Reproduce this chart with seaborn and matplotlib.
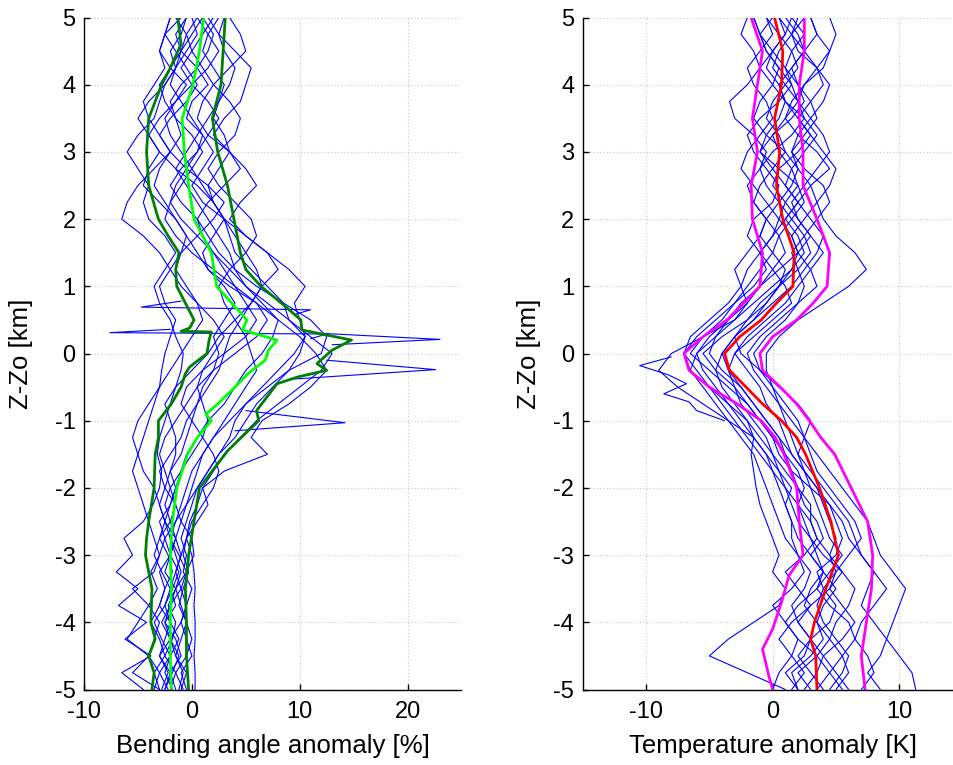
import numpy as np
import pandas as pd
import matplotlib
matplotlib.use("Agg")
import matplotlib.pyplot as plt
import seaborn as sns

# ---------------- data ----------------
Z = [-5.0, -4.75, -4.5, -4.25, -4.0, -3.75, -3.5, -3.25, -3.0, -2.75, -2.5,
     -2.25, -2.0, -1.75, -1.5, -1.25, -1.0, -0.75, -0.5, -0.25, 0.0,
     0.25, 0.5, 0.75, 1.0, 1.25, 1.5, 1.75, 2.0, 2.25, 2.5,
     2.75, 3.0, 3.25, 3.5, 3.75, 4.0, 4.25, 4.5, 4.75, 5.0]

# individual bending-angle anomaly profiles [%]
BA_PROFILES = {
    "L1": [-4.5, -6.5, -3.8, -6.2, -4.2, -6.8, -5.0, -7.0, -5.5, -6.3, -4.5, -3.6, -3.0, -2.8, -3.2, -3.0, -2.5, -2.0, -1.5, -1.0, -0.8, -1.5, -2.0, -3.0, -3.5, -2.5, -1.5, -2.5, -4.0, -4.5, -4.0, -5.0, -6.0, -5.0, -3.5, -3.0, -2.5, -1.5, -1.0, -0.5, -1.5],
    "L2": [0.3, 0.3, 0.2, 0.3, 0.3, 0.2, 0.3, 0.2, 0.0, -0.5, -0.2, 0.5, 1.0, 2.0, 3.0, 4.5, 6.0, 8.0, 10.0, 12.0, 13.0, 11.0, 9.0, 8.5, 7.0, 5.5, 4.0, 3.5, 3.0, 2.0, 1.5, 2.5, 3.5, 3.0, 2.0, 2.5, 3.5, 4.0, 3.0, 2.5, 3.0],
    "L3": [-2.5, -2.0, -3.0, -2.5, -2.0, -3.0, -2.5, -1.8, -2.2, -3.0, -2.5, -2.0, -1.5, -1.0, -0.5, 0.5, 1.5, 3.0, 4.0, 5.0, 6.5, 7.5, 8.0, 6.5, 5.0, 3.5, 2.0, 0.5, -1.0, -2.0, -1.5, -0.5, 0.5, 1.0, 0.0, -1.0, -2.0, -1.5, -0.5, 0.5, 0.0],
    "L4": [-1.0, -0.5, -1.5, -1.0, -0.5, -1.2, -0.8, -0.3, -0.8, -0.5, 0.5, 1.5, 1.0, 3.0, 7.0, 5.5, 6.5, 9.0, 11.0, 12.5, 11.5, 10.0, 8.0, 6.0, 4.0, 3.0, 2.0, 1.0, 0.5, 1.5, 3.0, 4.5, 3.5, 1.5, 0.5, 1.0, 2.0, 1.0, 0.0, -0.5, 0.5],
    "L5": [-3.5, -3.0, -4.0, -3.5, -3.0, -4.0, -3.2, -3.8, -3.0, -3.5, -4.0, -4.5, -5.0, -5.5, -5.0, -4.5, -4.0, -3.5, -3.0, -2.8, -2.5, -2.0, -1.5, -2.5, -3.0, -2.0, -1.0, -0.5, -1.5, -2.5, -3.5, -3.0, -2.0, -3.0, -4.0, -4.5, -3.5, -2.5, -3.0, -2.5, -2.0],
    "L6": [-2.0, -1.5, -2.5, -1.8, -1.5, -2.2, -1.5, -2.5, -2.0, -1.5, -1.0, -0.5, 0.0, 0.5, 1.0, 2.0, 3.5, 5.0, 6.5, 8.0, 9.5, 10.5, 9.0, 7.0, 5.0, 4.0, 3.5, 2.5, 1.5, 0.5, -0.5, -1.5, -0.5, 0.5, 1.5, 2.5, 3.0, 2.0, 1.0, 1.5, 2.5],
    "L7": [-3.0, -5.5, -4.0, -6.0, -5.0, -4.0, -5.5, -3.5, -3.0, -2.5, -3.0, -2.0, -1.5, -2.0, -1.0, -0.5, 0.0, 0.5, 1.5, 2.5, 3.0, 3.5, 4.5, 5.5, 6.5, 6.0, 5.0, 4.0, 3.0, 2.0, 1.0, 0.0, -1.0, -2.0, -2.5, -1.5, 0.0, 1.5, 2.5, 1.5, 0.5],
    "L8": [-1.5, -2.0, -1.0, -1.5, -2.5, -2.0, -1.5, -1.0, -1.5, -2.0, -2.5, -3.0, -3.5, -4.5, -5.0, -5.5, -5.0, -4.0, -3.0, -2.0, -1.0, 0.0, 1.0, 0.5, -1.0, -2.0, -3.0, -4.5, -6.5, -6.0, -5.0, -3.5, -2.0, -1.0, -1.5, -2.5, -3.0, -2.0, -1.0, 0.0, 1.0],
    "L9": [-0.5, -1.0, 0.0, -0.5, -1.0, -0.5, 0.0, -0.8, -0.5, -1.0, -0.5, 0.0, 0.5, 1.5, 2.5, 4.0, 5.0, 6.0, 7.5, 9.0, 10.0, 10.5, 10.0, 9.5, 10.5, 9.0, 7.0, 5.0, 3.5, 4.5, 6.0, 5.0, 3.5, 2.0, 3.0, 4.5, 5.0, 5.5, 4.0, 2.5, 1.5],
    "L10": [-2.8, -2.2, -3.0, -2.0, -2.5, -1.5, -2.0, -2.8, -3.5, -3.0, -2.0, -1.5, -2.5, -3.0, -2.0, -1.0, -0.5, 0.5, 1.0, 2.0, 2.5, 2.0, 3.0, 4.0, 3.0, 1.5, 0.5, -0.5, -1.5, -3.0, -4.5, -4.0, -3.0, -4.0, -5.0, -4.0, -2.5, -1.5, -2.0, -1.0, -0.5],
    "L11": [-1.8, -2.5, -2.0, -1.2, -2.0, -2.5, -1.8, -1.2, -2.0, -2.5, -1.5, -1.0, -0.5, 0.0, 1.0, 2.0, 3.0, 4.0, 5.0, 6.0, 5.5, 5.0, 4.0, 3.0, 2.5, 3.5, 5.0, 6.0, 5.5, 4.0, 2.5, 1.5, 2.5, 4.0, 4.5, 3.5, 2.0, 3.5, 5.0, 4.5, 3.5],
    "L12": [-3.0, -3.5, -2.5, -3.0, -3.8, -3.0, -2.5, -3.0, -2.0, -1.5, -2.0, -2.5, -2.0, -1.0, 0.0, 1.0, 1.5, 1.0, 0.5, 1.0, 2.0, 3.0, 2.0, 0.5, -0.5, -1.5, -1.0, 0.5, 2.0, 3.0, 1.5, -0.5, -2.0, -3.0, -2.0, -0.5, 0.5, -0.5, -1.5, -2.5, -2.0],
    "L13": [-1.2, -0.8, -1.5, -2.0, -1.0, -0.5, -1.0, -1.5, -1.0, -0.5, 0.0, 1.0, 2.0, 2.5, 2.0, 1.0, 0.0, -1.0, -0.5, 1.0, 3.0, 5.0, 6.0, 5.0, 4.0, 2.0, 0.0, -1.5, -2.5, -2.0, -1.0, 0.0, 1.0, 0.0, -1.5, -2.0, -1.0, 0.5, 1.5, 2.0, 1.0],
    "L14": [-2.2, -3.0, -2.0, -2.8, -3.5, -2.5, -2.0, -1.5, -1.0, -1.5, -2.5, -3.0, -2.5, -2.0, -1.5, -1.5, -2.0, -2.5, -1.5, 0.0, 1.5, 2.5, 4.0, 5.5, 6.5, 8.0, 7.0, 5.0, 3.0, 1.0, 0.0, 1.0, 2.0, 1.0, -0.5, 0.0, 1.5, 0.5, -1.0, -1.5, -0.5],
    "L15": [-0.8, -1.5, -0.5, 0.0, -0.5, -1.0, -1.5, -0.5, 0.2, 0.0, -1.0, -1.5, -2.0, -2.5, -3.0, -2.5, -1.5, -0.5, 0.5, 2.0, 4.0, 6.0, 7.0, 6.0, 3.5, 1.5, 1.0, 2.0, 3.0, 2.0, 0.5, -1.5, -3.0, -4.0, -3.0, -1.5, -0.5, -2.0, -3.0, -2.5, -1.0],
    "L16": [-2.5, -1.8, -1.2, -2.0, -2.8, -2.0, -1.0, -0.5, -1.2, -2.0, -1.5, -0.5, 0.5, 1.5, 2.5, 3.5, 4.0, 5.0, 7.0, 9.0, 12.0, 12.5, 11.0, 8.5, 6.0, 4.0, 2.5, 1.5, 0.5, -1.0, -2.0, -1.0, 0.5, 1.5, 2.5, 1.5, 0.0, -1.0, 0.0, 1.0, 2.0],
}

# sharp spikes in bending angle profiles (own heights)
BA_SPIKE_Z = [[0.30, 0.21, 0.13], [-0.10, -0.24, -0.38], [0.36, 0.31, 0.29, 0.22],
              [0.78, 0.69, 0.65, 0.58], [-0.85, -1.03, -1.15]]
BA_SPIKE_X = [[12.0, 23.0, 13.0], [12.5, 22.6, 9.5], [-2.0, -7.6, 12.5, 11.0],
              [-1.0, -4.7, 11.0, 9.5], [5.0, 14.2, 4.0]]

# mean and mean +/- std of bending angle anomaly
BA_MEAN_Z = [5, 4.5, 4, 3.5, 3, 2.5, 2, 1.5, 1, 0.75, 0.5, 0.35, 0.2, 0.05, -0.1, -0.3, -0.5,
             -0.75, -0.9, -1.0, -1.25, -1.5, -2, -2.5, -3, -3.5, -4, -4.5, -5]
BA_MEAN_X = [1.1, 0.7, 0.1, -0.9, -0.7, -0.3, 0.2, 1.8, 2.3, 3.7, 5.1, 4.7, 7.9, 7.1, 6.8, 5.2, 4.0,
             2.4, 1.3, 1.8, 0.5, -0.4, -1.4, -1.8, -2.0, -1.9, -2.0, -2.0, -1.9]
BA_LOW_Z = [5, 4.6, 4.25, 4, 3.5, 3, 2.5, 2, 1.75, 1.5, 1.25, 1, 0.75, 0.5, 0.38, 0.33, 0.32,
            0.2, 0, -0.2, -0.3, -0.5, -0.75, -1, -1.25, -1.5, -2, -2.5, -2.75, -3, -3.25,
            -3.5, -4, -4.25, -4.5, -4.75, -5]
BA_LOW_X = [-1.3, -1.0, -2.0, -2.8, -4.0, -4.2, -4.0, -3.1, -2.2, -1.2, -1.5, -1.4, -0.6, 0.2, -0.2, -1.0, 1.8,
            1.6, 1.4, -0.2, -0.6, -1.0, -1.9, -3.1, -3.1, -3.4, -3.5, -4.0, -4.2, -4.3, -4.0,
            -3.7, -3.8, -3.4, -4.0, -3.5, -3.7]
BA_HIGH_Z = [5, 4.5, 4, 3.5, 3, 2.5, 2, 1.5, 1.25, 1, 0.75, 0.5, 0.35, 0.2, 0.05, -0.15, -0.25,
             -0.35, -0.45, -0.85, -1.0, -1.2, -1.45, -2, -2.5, -3, -3.5, -4, -4.5, -5]
BA_HIGH_X = [3.1, 2.9, 2.7, 1.9, 2.4, 3.3, 3.9, 4.5, 5.0, 6.4, 8.3, 10.1, 10.2, 14.8, 13.0, 11.6, 12.5,
             9.8, 7.9, 6.0, 6.2, 4.9, 3.3, 0.7, 0.2, -0.3, -0.6, -0.5, -0.5, -0.3]

# individual temperature anomaly profiles [K]
T_PROFILES = {
    "R1": [2.0, 1.0, 2.5, 3.0, 2.0, 1.5, 2.5, 3.0, 2.0, 1.5, 1.5, 1.0, 1.5, 0.5, -0.5, -1.5, -3.5, -5.5, -7.5, -9.0, -8.0, -5.5, -3.0, -1.5, 0.0, 1.5, 2.0, 1.5, 0.5, 1.0, 2.0, 1.5, 0.5, 0.0, 1.0, 2.0, 1.5, 0.5, -0.5, -1.0, -1.5],
    "R2": [11.3, 11.0, 10.0, 9.0, 9.5, 10.0, 10.5, 9.5, 8.5, 8.0, 7.5, 6.5, 5.5, 4.5, 3.5, 2.5, 1.5, 0.5, -0.5, -1.5, -2.0, -1.0, 0.5, 2.0, 3.5, 3.0, 2.0, 1.5, 2.5, 3.5, 3.0, 2.0, 1.5, 2.5, 3.5, 3.0, 2.0, 1.5, 2.5, 3.5, 3.0],
    "R3": [1.0, -2.0, -5.0, -3.5, -1.5, 0.5, 1.0, 0.0, 0.5, 0.0, -0.5, -1.0, -1.3, -1.5, -1.7, -1.5, -2.0, -3.5, -5.0, -6.5, -6.0, -4.5, -3.0, -2.0, -2.5, -3.0, -2.0, -1.0, -0.5, -1.5, -2.0, -1.0, -0.5, -1.5, -3.0, -3.4, -2.0, -1.0, -1.5, -2.5, -2.0],
    "R4": [5.0, 6.0, 5.5, 4.5, 5.0, 6.0, 6.5, 5.5, 4.5, 5.0, 4.5, 4.0, 3.5, 2.5, 1.5, 0.5, -0.5, -1.5, -2.5, -3.5, -4.0, -3.0, -1.5, 0.0, 1.5, 2.5, 3.5, 4.0, 3.0, 2.0, 1.0, 1.5, 2.5, 3.5, 2.5, 1.0, 0.5, 1.5, 2.5, 2.0, 1.0],
    "R5": [3.0, 2.0, 3.5, 4.5, 3.5, 2.5, 3.0, 4.0, 3.0, 2.0, 1.5, 1.0, 0.5, 0.0, -0.5, -1.5, -2.5, -3.5, -4.5, -5.5, -6.0, -5.0, -3.5, -2.0, -1.0, 0.0, 1.0, 0.5, -0.5, -1.5, -1.0, 0.0, 1.0, 0.5, -0.5, 0.0, 1.0, 2.0, 1.5, 0.5, -0.5],
    "R6": [7.0, 8.0, 7.5, 6.5, 7.0, 8.0, 9.0, 8.0, 7.0, 6.5, 6.0, 5.0, 4.0, 3.0, 2.0, 1.5, 1.0, 0.5, 0.0, -0.5, -0.5, 0.5, 2.0, 4.0, 6.0, 7.4, 6.5, 5.0, 4.0, 3.5, 4.5, 5.0, 4.0, 3.0, 2.0, 3.0, 4.0, 3.5, 2.5, 1.5, 0.5],
    "R7": [4.0, 3.0, 2.0, 3.0, 4.5, 5.0, 4.0, 3.5, 5.0, 5.5, 5.0, 4.5, 3.0, 1.5, 0.5, 0.0, -1.0, -2.0, -3.0, -4.5, -5.5, -4.0, -2.0, -0.5, 0.5, 1.0, 0.0, -1.0, -0.5, 0.5, 1.5, 2.0, 1.0, -0.5, -1.5, -1.0, 0.0, 0.5, -0.5, -1.0, 0.0],
    "R8": [6.0, 5.0, 4.0, 5.5, 6.5, 5.5, 4.5, 5.0, 6.0, 7.0, 6.5, 5.5, 4.5, 3.5, 3.0, 2.5, 2.0, 1.0, 0.0, -1.0, -1.5, -0.5, 1.0, 2.0, 2.5, 2.0, 1.5, 2.5, 3.5, 4.5, 4.0, 2.5, 1.5, 2.0, 3.0, 4.0, 4.5, 3.5, 2.0, 1.5, 2.5],
    "R9": [2.5, 3.5, 4.0, 3.0, 2.0, 3.0, 4.5, 5.5, 4.0, 3.0, 2.5, 2.0, 2.5, 2.0, 1.0, 0.0, -1.0, -2.0, -3.5, -5.0, -6.5, -5.5, -4.0, -3.0, -1.5, -0.5, -1.0, -2.0, -1.5, 0.0, 0.5, -0.5, -1.5, -2.0, -1.0, 0.5, 1.5, 1.0, 0.0, -1.0, -1.5],
    "R10": [3.5, 4.5, 3.5, 2.0, 1.0, 2.0, 3.5, 4.0, 3.0, 4.0, 3.5, 2.5, 2.0, 1.5, 1.0, 0.5, -0.5, -1.5, -2.5, -4.0, -5.0, -4.5, -3.5, -2.5, -1.0, 0.5, 2.0, 3.0, 2.0, 1.0, 0.0, 0.5, 2.0, 3.0, 2.0, 1.0, 0.0, -1.0, 0.0, 1.0, 1.5],
    "R11": [8.5, 7.5, 8.5, 9.0, 8.0, 7.0, 7.5, 8.0, 7.0, 6.0, 5.5, 4.5, 3.5, 2.5, 2.0, 2.5, 3.0, 2.0, 0.5, -1.0, -2.5, -3.0, -2.0, -1.0, 0.5, 1.5, 2.5, 2.0, 1.0, 2.0, 3.0, 4.5, 3.5, 2.0, 1.0, 1.5, 2.5, 4.0, 4.5, 3.5, 3.0],
    "R12": [1.5, 2.5, 1.5, 0.5, 1.5, 3.0, 2.0, 1.0, 2.5, 3.5, 3.0, 2.0, 1.0, 0.0, -1.0, -2.0, -3.0, -4.0, -5.0, -6.0, -7.0, -6.0, -4.5, -3.0, -2.0, -1.0, 0.0, 0.5, 1.5, 2.5, 2.0, 0.5, -1.0, -0.5, 0.5, 1.0, 0.5, -0.5, 0.0, 1.0, 0.5],
    "R13": [5.5, 4.5, 5.5, 6.5, 6.0, 4.5, 3.5, 4.5, 5.5, 4.5, 4.0, 3.5, 3.0, 2.5, 1.5, 1.0, 0.5, -0.5, -1.0, -2.0, -3.0, -2.0, -0.5, 1.0, 2.0, 3.0, 4.0, 3.0, 2.0, 1.5, 2.5, 3.5, 4.5, 4.0, 3.0, 2.0, 2.5, 3.5, 4.5, 5.0, 4.5],
    "R14": [0.0, 0.5, 1.5, 2.0, 1.0, 0.0, 1.5, 2.5, 2.0, 1.0, 0.5, 0.0, -0.5, -1.0, -1.5, -2.5, -3.5, -4.5, -5.5, -6.5, -7.0, -6.5, -5.0, -3.5, -2.5, -2.0, -1.0, 0.0, 0.5, -0.5, -1.5, -2.5, -2.0, -1.0, 0.0, -0.5, -1.5, -2.0, -1.0, 0.0, -0.5],
    "R15": [2.0, 1.5, 3.0, 4.0, 3.5, 4.0, 5.0, 4.0, 3.5, 3.0, 2.0, 1.5, 1.0, 0.5, 0.0, -1.0, -2.0, -3.0, -4.0, -4.5, -4.0, -3.0, -1.5, -0.5, 0.5, 2.0, 3.0, 2.5, 1.5, 0.5, -0.5, -1.0, 0.0, 1.5, 2.5, 2.0, 1.0, 0.0, 0.5, 1.5, 2.0],
    "R16": [4.5, 5.5, 6.0, 5.0, 4.0, 3.5, 4.0, 5.0, 4.5, 3.5, 3.0, 3.0, 2.0, 1.0, 0.0, -0.5, -1.5, -2.5, -3.0, -3.5, -3.0, -1.5, 0.0, 1.5, 1.0, 0.0, -1.0, 0.0, 1.0, 2.0, 1.0, 0.0, -1.0, 0.0, 1.5, 2.5, 2.0, 1.0, 1.5, 2.5, 1.5],
}

T_SPIKE_Z = [[-0.05, -0.18, -0.32, -0.45, -0.6, -0.72, -0.85, -1.0]]
T_SPIKE_X = [[-8.0, -10.5, -8.2, -6.8, -8.6, -6.6, -6.0, -3.8]]

# mean and mean +/- std of temperature anomaly
T_MEAN_Z = [5, 4.5, 4, 3.5, 3, 2.5, 2, 1.5, 1, 0.75, 0.5, 0.25, 0, -0.25, -0.5, -0.75, -1,
            -1.25, -1.5, -2, -2.5, -3, -3.25, -3.5, -4, -4.25, -4.5, -5]
T_MEAN_X = [0.15, 0.8, 0.7, 0.15, 0.55, 0.3, 0.8, 1.7, 1.6, 0.3, -0.9, -2.6, -3.8, -3.4, -2.1, -0.8, 0.7,
            1.9, 2.6, 3.7, 4.6, 5.2, 4.7, 4.2, 3.3, 3.0, 3.4, 3.5]
T_LOW_Z = [5, 4.5, 4, 3.5, 3, 2.5, 2, 1.5, 1, 0.75, 0.5, 0.25, 0, -0.25, -0.5, -0.75, -1,
           -1.25, -1.5, -2, -2.5, -3, -3.3, -3.7, -4.1, -4.4, -4.8, -5]
T_LOW_X = [-1.7, -0.8, -1.2, -1.6, -1.2, -1.7, -1.6, -0.8, -1.0, -2.3, -3.6, -5.5, -7.0, -6.6, -5.0, -2.8, -0.9,
           0.2, 0.9, 1.9, 2.1, 2.4, 1.3, 0.7, 0.0, -0.8, -0.3, 0.0]
T_HIGH_Z = [5, 4.5, 4, 3.5, 3, 2.5, 2, 1.5, 1, 0.75, 0.5, 0.25, 0, -0.25, -0.5, -0.75, -1,
            -1.25, -1.5, -2, -2.5, -3, -3.5, -4, -4.5, -5]
T_HIGH_X = [2.5, 2.5, 2.1, 2.1, 2.4, 2.4, 3.5, 4.5, 4.3, 3.2, 1.9, 0.0, -1.0, -0.8, 0.6, 1.9, 2.9,
            3.8, 4.9, 6.2, 7.5, 7.9, 7.8, 7.4, 7.0, 7.3]

BA_XTICKS = [-10, 0, 10, 20]
T_XTICKS = [-10, 0, 10]
Y_TICKS = [-5, -4, -3, -2, -1, 0, 1, 2, 3, 4, 5]


def long_frame(profiles, spike_z, spike_x):
    rows = []
    for name, vals in profiles.items():
        for z, v in zip(Z, vals):
            rows.append((name, z, v))
    for k, (zs, xs) in enumerate(zip(spike_z, spike_x)):
        for z, v in zip(zs, xs):
            rows.append((f"spike{k}", z, v))
    return pd.DataFrame(rows, columns=["unit", "z", "x"])


sns.set_theme(style="white")
plt.rcParams["font.family"] = ["Liberation Sans", "DejaVu Sans"]
plt.rcParams["axes.unicode_minus"] = False

W, H = 954, 765
fig = plt.figure(figsize=(W / 100, H / 100), dpi=100)
axL = fig.add_axes([84 / W, 75.5 / H, 377.5 / W, 672 / H])
axR = fig.add_axes([582.7 / W, 75.5 / H, 379.9 / W, 672 / H])


def draw(ax, profiles, sz, sx, stats, xlim, xticks, xlabel, ylab_x):
    df = long_frame(profiles, sz, sx)
    sns.lineplot(data=df, x="x", y="z", units="unit", estimator=None, sort=False,
                 orient="y", color="#0000FF", lw=0.8, ax=ax, legend=False)
    for (zz, xx, col) in stats:
        sdf = pd.DataFrame({"z": zz, "x": xx})
        sns.lineplot(data=sdf, x="x", y="z", estimator=None, sort=False, orient="y",
                     color=col, lw=2.0, ax=ax, legend=False)
    ax.set_xlim(*xlim)
    ax.set_ylim(-5, 5)
    ax.set_xticks(xticks)
    ax.set_yticks(Y_TICKS)
    ax.grid(True, linestyle=(0, (1, 2)), color="#c8c8c8", lw=0.8)
    ax.set_axisbelow(True)
    for s in ["top", "right"]:
        ax.spines[s].set_visible(False)
    for s in ["left", "bottom"]:
        ax.spines[s].set_color("black")
        ax.spines[s].set_linewidth(1.0)
    ax.tick_params(axis="both", direction="in", length=4, width=1, colors="black",
                   labelsize=17, left=True, bottom=True)
    ax.tick_params(axis="y", pad=6)
    ax.tick_params(axis="x", pad=8)
    ax.set_xlabel(xlabel, fontsize=18.5, labelpad=8, color="black")
    ax.set_ylabel("Z-Zo [km]", fontsize=18.5, color="black")
    ax.yaxis.set_label_coords(ylab_x, 0.5)


draw(axL, BA_PROFILES, BA_SPIKE_Z, BA_SPIKE_X,
     [(BA_LOW_Z, BA_LOW_X, "#007F00"), (BA_HIGH_Z, BA_HIGH_X, "#007F00"),
      (BA_MEAN_Z, BA_MEAN_X, "#00FF00")],
     (-10, 25), BA_XTICKS, "Bending angle anomaly [%]", (33 - 84) / 377.5)
draw(axR, T_PROFILES, T_SPIKE_Z, T_SPIKE_X,
     [(T_LOW_Z, T_LOW_X, "#FF00FF"), (T_HIGH_Z, T_HIGH_X, "#FF00FF"),
      (T_MEAN_Z, T_MEAN_X, "#FF0000")],
     (-15, 15), T_XTICKS, "Temperature anomaly [K]", (541 - 582.7) / 379.9)

fig.savefig("out.png", dpi=100)
